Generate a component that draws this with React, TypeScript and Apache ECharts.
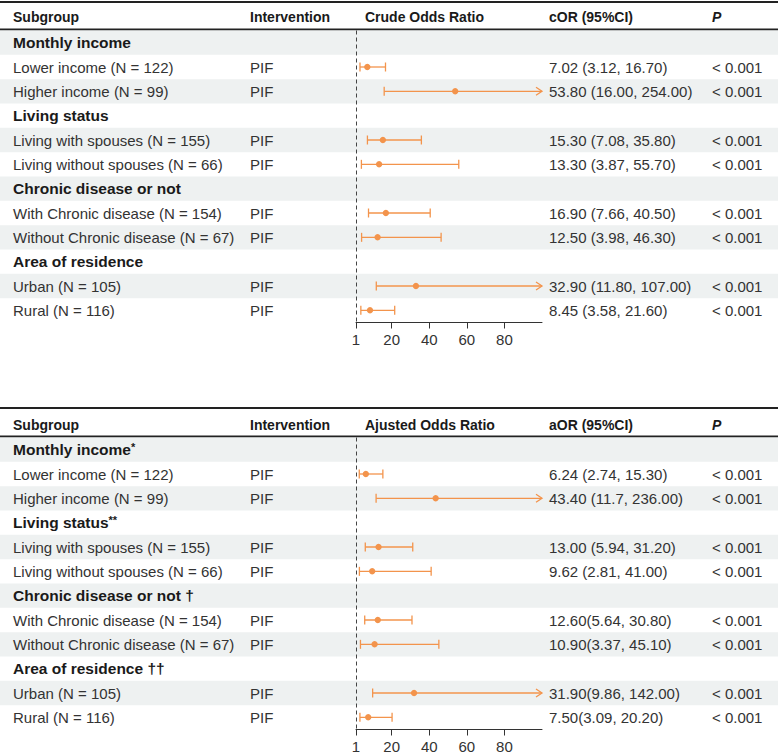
import React, { useEffect, useRef } from 'react';
import * as echarts from 'echarts';

// ---------- data ----------
const rowLabels = [
  'Monthly income',
  'Lower income (N = 122)',
  'Higher income (N = 99)',
  'Living status',
  'Living with spouses (N = 155)',
  'Living without spouses (N = 66)',
  'Chronic disease or not',
  'With Chronic disease (N = 154)',
  'Without Chronic disease (N = 67)',
  'Area of residence',
  'Urban (N = 105)',
  'Rural (N = 116)',
];
const groupRows = [0, 3, 6, 9];
const adjGroupMarks = ['*', '**', ' \u2020', ' \u2020\u2020'];
const dataRows = [1, 2, 4, 5, 7, 8, 10, 11];
const intervention = 'PIF';

const crudeOR = [7.02, 53.8, 15.3, 13.3, 16.9, 12.5, 32.9, 8.45];
const crudeLo = [3.12, 16.0, 7.08, 3.87, 7.66, 3.98, 11.8, 3.58];
const crudeHi = [16.7, 254.0, 35.8, 55.7, 40.5, 46.3, 107.0, 21.6];
const crudeText = [
  '7.02 (3.12, 16.70)',
  '53.80 (16.00, 254.00)',
  '15.30 (7.08, 35.80)',
  '13.30 (3.87, 55.70)',
  '16.90 (7.66, 40.50)',
  '12.50 (3.98, 46.30)',
  '32.90 (11.80, 107.00)',
  '8.45 (3.58, 21.60)',
];
const crudeP = ['< 0.001', '< 0.001', '< 0.001', '< 0.001', '< 0.001', '< 0.001', '< 0.001', '< 0.001'];

const adjOR = [6.24, 43.4, 13.0, 9.62, 12.6, 10.9, 31.9, 7.5];
const adjLo = [2.74, 11.7, 5.94, 2.81, 5.64, 3.37, 9.86, 3.09];
const adjHi = [15.3, 236.0, 31.2, 41.0, 30.8, 45.1, 142.0, 20.2];
const adjText = [
  '6.24 (2.74, 15.30)',
  '43.40 (11.7, 236.00)',
  '13.00 (5.94, 31.20)',
  '9.62 (2.81, 41.00)',
  '12.60(5.64, 30.80)',
  '10.90(3.37, 45.10)',
  '31.90(9.86, 142.00)',
  '7.50(3.09, 20.20)',
];
const adjP = ['< 0.001', '< 0.001', '< 0.001', '< 0.001', '< 0.001', '< 0.001', '< 0.001', '< 0.001'];

const xTicks = [1, 20, 40, 60, 80];
const xMin = 1;
const xMax = 100;

// ---------- styles / layout ----------
const W = 778;
const H = 754;
const FONT = '"Liberation Sans", Arial, Helvetica, sans-serif';
const ORANGE = '#F3944C';
const BAND = '#EEF1F1';
const TEXT = '#333333';
const HEAD = '#1a1a1a';
const BODY_SIZE = 15;
const GROUP_SIZE = 15.5;
const HEAD_SIZE = 14;
const COL_SUB = 13;
const COL_INT = 250;
const COL_FOREST = 365;
const COL_CI = 549;
const COL_P = 712;
const FOREST_LEFT = 356;
const FOREST_WIDTH = 186;
const ROWS_H = 292;

const panels = [
  {
    title: 'Crude Odds Ratio',
    ciHead: 'cOR (95%CI)',
    or: crudeOR, lo: crudeLo, hi: crudeHi, ciText: crudeText, p: crudeP,
    marks: null as string[] | null,
    topLine: 1, headY: 17, headLine: 28.5, gridTop: 30.5,
  },
  {
    title: 'Ajusted Odds Ratio',
    ciHead: 'aOR (95%CI)',
    or: adjOR, lo: adjLo, hi: adjHi, ciText: adjText, p: adjP,
    marks: adjGroupMarks,
    topLine: 407, headY: 425, headLine: 435.5, gridTop: 437.5,
  },
];

function buildOption() {
  const grid: any[] = [];
  const xAxis: any[] = [];
  const yAxis: any[] = [];
  const series: any[] = [];
  const graphic: any[] = [];
  const rowIdx = rowLabels.map((_, i) => String(i));

  panels.forEach((pn, k) => {
    const gTable = k * 2;
    const gForest = k * 2 + 1;
    grid.push({ left: 0, top: pn.gridTop, width: W, height: ROWS_H, containLabel: false, outerBoundsMode: 'none' });
    grid.push({ left: FOREST_LEFT, top: pn.gridTop, width: FOREST_WIDTH, height: ROWS_H, containLabel: false, outerBoundsMode: 'none' });

    xAxis.push({ type: 'value', gridIndex: gTable, min: 0, max: W, show: false });
    xAxis.push({
      type: 'value', gridIndex: gForest, min: xMin, max: xMax, position: 'bottom',
      splitLine: { show: false },
      axisLine: { show: true, onZero: false, lineStyle: { color: '#333', width: 1 } },
      axisTick: { show: true, length: 6, customValues: xTicks, lineStyle: { color: '#333', width: 1 } },
      axisLabel: { show: true, customValues: xTicks, color: TEXT, fontSize: BODY_SIZE, fontFamily: FONT, margin: 9 },
    });
    yAxis.push({ type: 'category', gridIndex: gTable, data: rowIdx, inverse: true, show: false });
    yAxis.push({ type: 'category', gridIndex: gForest, data: rowIdx, inverse: true, show: false });

    // shaded bands
    series.push({
      type: 'custom', xAxisIndex: gTable, yAxisIndex: gTable, silent: true, z: 0,
      data: rowLabels.map((_, i) => [0, i]).filter((d) => d[1] % 2 === 0),
      encode: { x: 0, y: 1 },
      renderItem: (params: any, api: any) => {
        const c = api.coord([0, api.value(1)]);
        const h = api.size([0, 1])[1];
        return { type: 'rect', shape: { x: 0, y: c[1] - h / 2, width: W, height: h }, style: { fill: BAND } };
      },
    });

    // text cells
    series.push({
      type: 'custom', xAxisIndex: gTable, yAxisIndex: gTable, silent: true, z: 3,
      data: rowLabels.map((_, i) => [0, i]),
      encode: { x: 0, y: 1 },
      renderItem: (params: any, api: any) => {
        const r = api.value(1);
        const y = api.coord([0, r])[1];
        const children: any[] = [];
        const gi = groupRows.indexOf(r);
        if (gi >= 0) {
          const mark = pn.marks ? pn.marks[gi] : '';
          const small = mark.indexOf('*') >= 0;
          children.push({
            type: 'text', x: COL_SUB, y,
            style: {
              text: small ? `{g|${rowLabels[r]}}{s|${mark}}` : `{g|${rowLabels[r]}${mark}}`,
              rich: {
                g: { fontSize: GROUP_SIZE, fontWeight: 'bold', fontFamily: FONT, fill: HEAD, color: HEAD },
                s: { fontSize: 11, fontWeight: 'bold', fontFamily: FONT, fill: HEAD, color: HEAD, verticalAlign: 'top' },
              },
              verticalAlign: 'middle', align: 'left',
            },
          });
        } else {
          const di = dataRows.indexOf(r);
          const base = { fill: TEXT, fontSize: BODY_SIZE, fontFamily: FONT, verticalAlign: 'middle', align: 'left' };
          children.push({ type: 'text', x: COL_SUB, y, style: { ...base, text: rowLabels[r] } });
          children.push({ type: 'text', x: COL_INT, y, style: { ...base, text: intervention } });
          children.push({ type: 'text', x: COL_CI, y, style: { ...base, text: pn.ciText[di] } });
          children.push({ type: 'text', x: COL_P, y, style: { ...base, text: pn.p[di] } });
        }
        return { type: 'group', children };
      },
    });

    // forest marks
    series.push({
      type: 'custom', xAxisIndex: gForest, yAxisIndex: gForest, silent: true, z: 4, clip: false,
      data: dataRows.map((r, i) => [r, pn.or[i], pn.lo[i], pn.hi[i]]),
      encode: { y: 0, x: [1, 2, 3] },
      renderItem: (params: any, api: any) => {
        const r = api.value(0);
        const or = api.value(1);
        const lo = api.value(2);
        const hi = api.value(3);
        const pLo = api.coord([lo, r]);
        const pHi = api.coord([Math.min(hi, xMax), r]);
        const pOr = api.coord([or, r]);
        const y = pOr[1];
        const ls = { stroke: ORANGE, lineWidth: 1.3, fill: 'none' };
        const children: any[] = [
          { type: 'line', shape: { x1: pLo[0], y1: y, x2: pHi[0], y2: y }, style: ls },
          { type: 'line', shape: { x1: pLo[0], y1: y - 4.5, x2: pLo[0], y2: y + 4.5 }, style: ls },
        ];
        if (hi > xMax) {
          children.push({ type: 'polyline', shape: { points: [[pHi[0] - 6, y - 4], [pHi[0], y], [pHi[0] - 6, y + 4]] }, style: ls });
        } else {
          children.push({ type: 'line', shape: { x1: pHi[0], y1: y - 4.5, x2: pHi[0], y2: y + 4.5 }, style: ls });
        }
        children.push({ type: 'circle', shape: { cx: pOr[0], cy: y, r: 3.2 }, style: { fill: ORANGE } });
        return { type: 'group', children };
      },
      markLine: {
        silent: true, symbol: 'none', animation: false,
        label: { show: false },
        lineStyle: { color: '#444', width: 1, type: [4, 3] },
        data: [{ xAxis: 1 }],
      },
    });

    // header and rules
    const hs = { fill: HEAD, fontSize: HEAD_SIZE, fontWeight: 'bold', fontFamily: FONT, verticalAlign: 'middle', align: 'left' };
    graphic.push({ type: 'rect', shape: { x: 0, y: pn.topLine, width: W, height: 2 }, style: { fill: '#222' } });
    graphic.push({ type: 'rect', shape: { x: 0, y: pn.headLine, width: W, height: 2 }, style: { fill: '#222' } });
    graphic.push({ type: 'text', x: COL_SUB, y: pn.headY, style: { ...hs, text: 'Subgroup' } });
    graphic.push({ type: 'text', x: COL_INT, y: pn.headY, style: { ...hs, text: 'Intervention' } });
    graphic.push({ type: 'text', x: COL_FOREST, y: pn.headY, style: { ...hs, text: pn.title } });
    graphic.push({ type: 'text', x: COL_CI, y: pn.headY, style: { ...hs, text: pn.ciHead } });
    graphic.push({ type: 'text', x: COL_P, y: pn.headY, style: { ...hs, fontStyle: 'italic', text: 'P' } });
  });

  return {
    animation: false,
    backgroundColor: '#ffffff',
    textStyle: { fontFamily: FONT },
    grid, xAxis, yAxis, series, graphic,
  };
}

export default function App() {
  const ref = useRef<HTMLDivElement>(null);
  useEffect(() => {
    document.body.style.margin = '0';
    if (!ref.current) return;
    const chart = echarts.init(ref.current, null, { renderer: 'svg' });
    chart.setOption(buildOption() as any);
    return () => chart.dispose();
  }, []);
  return <div ref={ref} style={{ width: W, height: H }} />;
}
